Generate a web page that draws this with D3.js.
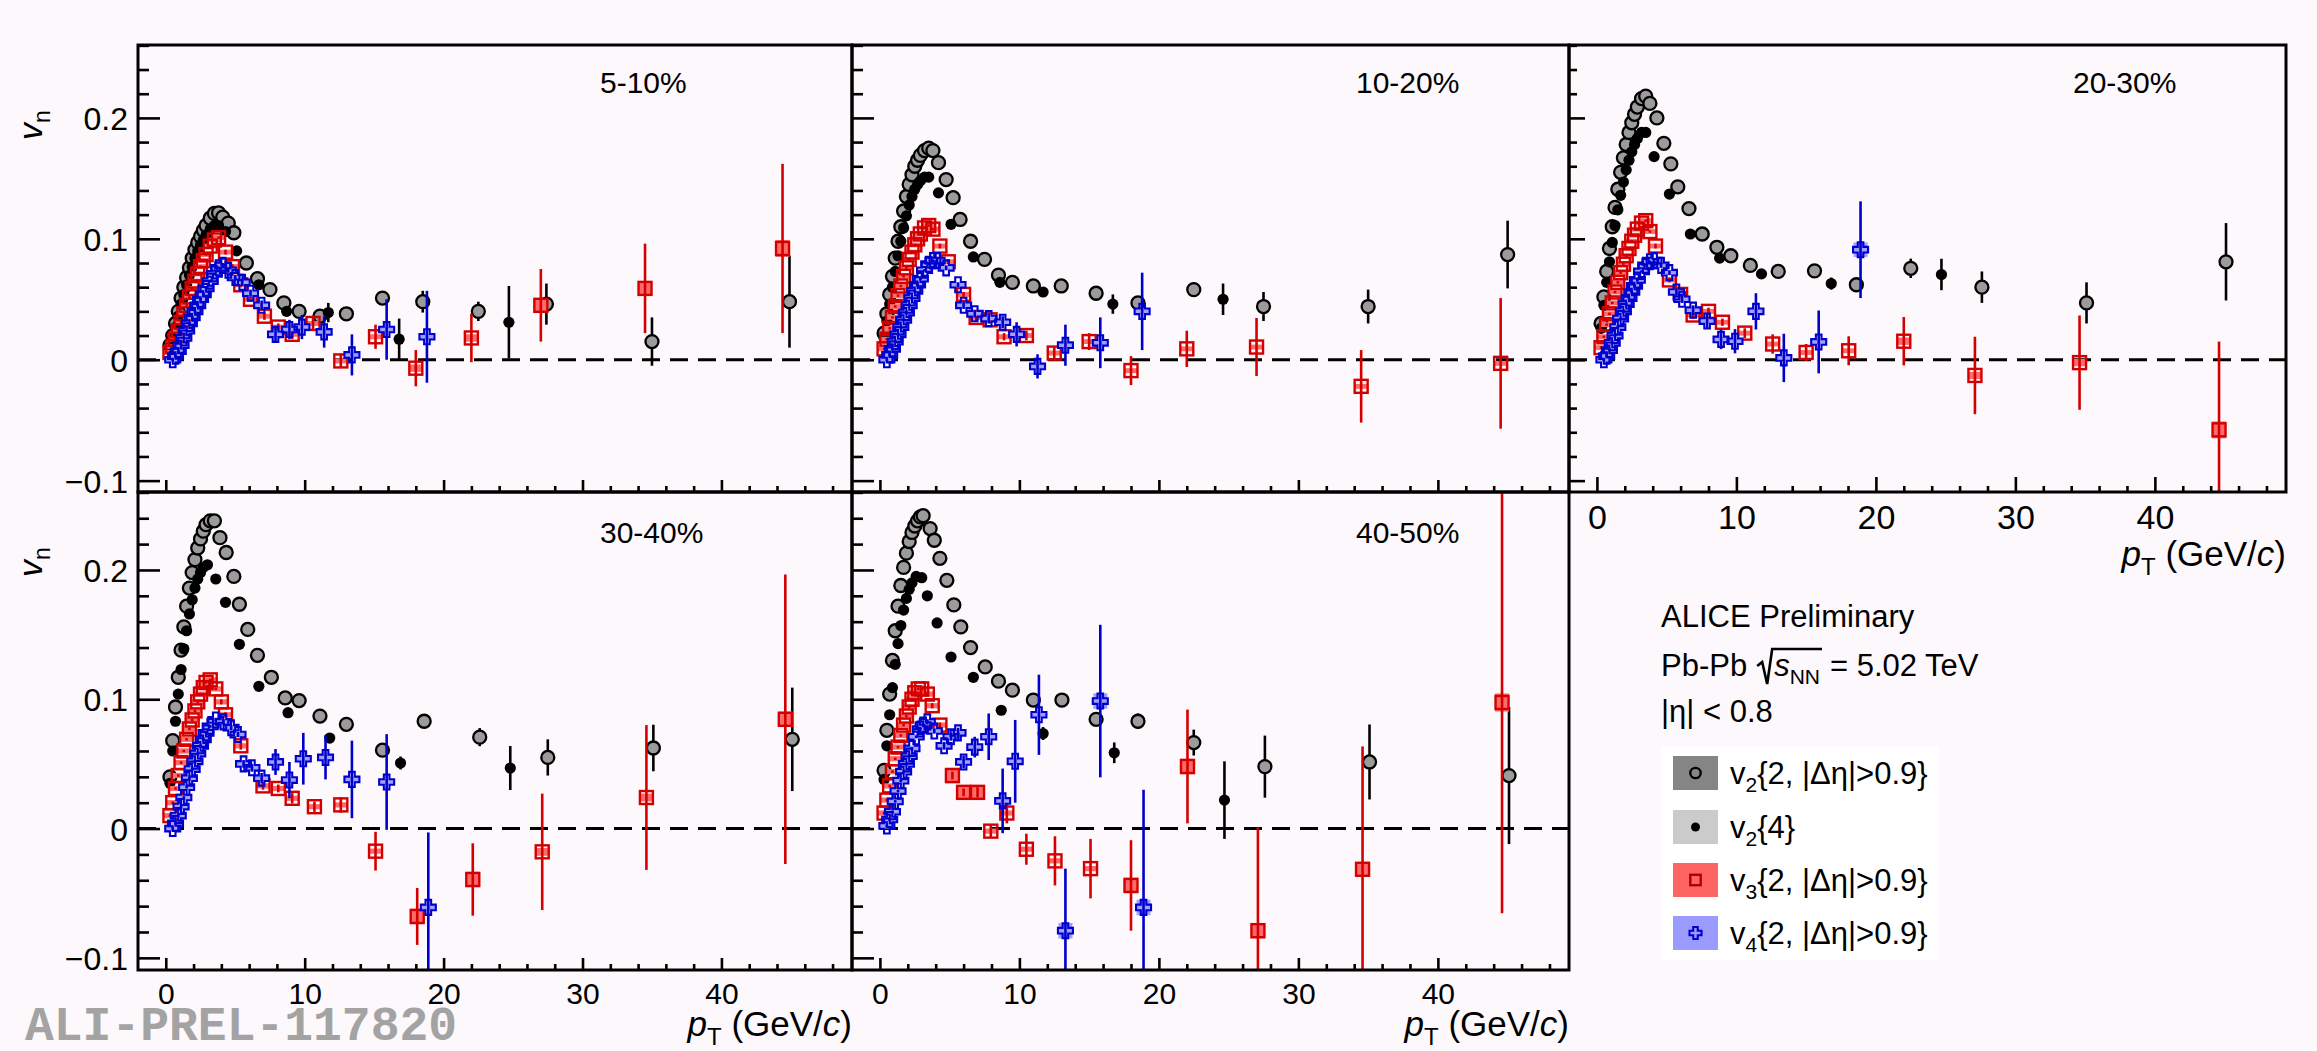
<!DOCTYPE html>
<html>
<head>
<meta charset="utf-8">
<script src="https://cdnjs.cloudflare.com/ajax/libs/d3/7.8.5/d3.min.js"></script>
<style>
body { margin: 0; background: #fdf8fc; }
svg { display: block; }
text { font-family: "Liberation Sans", Arial, Helvetica, sans-serif; fill: #000; }
</style>
</head>
<body>
<script>
// values: [pT, vn, stat, syst]
var centralities = ["5-10%", "10-20%", "20-30%", "30-40%", "40-50%"];

var v22_c1 = [[0.3,.012,.001],[0.5,.020,.001],[0.7,.030,.001],[0.9,.040,.001],[1.1,.051,.001],[1.3,.060,.001],[1.5,.068,.001],[1.7,.076,.001],[1.9,.084,.001],[2.1,.091,.001],[2.3,.097,.001],[2.5,.102,.001],[2.7,.107,.001],[2.9,.111,.001],[3.2,.117,.001],[3.5,.121,.001],[3.8,.1215,.001],[4.1,.118,.001],[4.5,.113,.001],[4.9,.105,.001],[5.8,.080,.001],[6.6,.067,.001],[7.5,.058,.002],[8.5,.047,.002],[9.6,.040,.002],[11.1,.036,.003],[13.0,.038,.003],[15.6,.051,.004],[18.5,.048,.009],[22.5,.040,.008],[27.4,.046,.017],[35.0,.015,.020],[44.9,.048,.038]];
var v24_c1 = [[0.3,.010,.001],[0.5,.018,.001],[0.7,.027,.001],[0.9,.036,.001],[1.1,.046,.001],[1.3,.054,.001],[1.5,.062,.001],[1.7,.070,.001],[1.9,.077,.001],[2.1,.084,.001],[2.3,.090,.001],[2.5,.095,.001],[2.7,.099,.001],[2.9,.103,.001],[3.2,.108,.001],[3.5,.111,.001],[3.8,.111,.001],[4.3,.106,.001],[5.1,.090,.002],[6.7,.062,.002],[8.7,.040,.003],[11.7,.039,.008],[16.8,.017,.017],[24.7,.031,.030]];
var v3_c1 = [[0.3,.006,.001],[0.5,.011,.001],[0.7,.017,.001],[0.9,.024,.001],[1.1,.031,.001],[1.3,.038,.001],[1.5,.045,.001],[1.7,.052,.001],[1.9,.059,.001],[2.1,.065,.001],[2.3,.071,.001],[2.5,.077,.001],[2.7,.082,.001],[2.9,.087,.001],[3.2,.094,.001],[3.5,.099,.001],[3.8,.101,.001],[4.3,.089,.002],[4.8,.077,.002],[5.4,.062,.002],[6.1,.050,.002],[7.1,.036,.003],[8.1,.027,.003],[9.1,.021,.004],[10.6,.030,.005],[12.6,-.001,.006],[15.1,.019,.010],[18.0,-.007,.015,.003],[22.0,.018,.020,.003],[27.0,.045,.030,.006],[34.5,.059,.037,.006],[44.4,.092,.070,.007]];
var v4_c1 = [[0.5,.000,.001],[0.7,.003,.001],[0.9,.007,.001],[1.1,.012,.001],[1.3,.018,.001],[1.5,.024,.001],[1.7,.030,.001],[1.9,.035,.001],[2.1,.040,.001],[2.3,.045,.001],[2.5,.050,.001],[2.7,.054,.001],[2.9,.059,.001],[3.2,.065,.001],[3.5,.071,.001],[3.8,.076,.001],[4.1,.078,.002],[4.5,.074,.002],[5.0,.068,.002],[5.5,.064,.003],[6.1,.055,.003],[6.9,.045,.004],[7.9,.021,.006],[8.9,.025,.008],[9.8,.027,.010],[11.4,.023,.013],[13.4,.004,.017],[15.9,.025,.025],[18.8,.019,.038]];

var v22_c2 = [[0.3,.022,.001],[0.5,.038,.001],[0.7,.054,.001],[0.9,.069,.001],[1.1,.084,.001],[1.3,.098,.001],[1.5,.110,.001],[1.7,.123,.001],[1.9,.135,.001],[2.1,.145,.001],[2.3,.153,.001],[2.5,.160,.001],[2.7,.165,.001],[2.9,.169,.001],[3.2,.173,.001],[3.5,.175,.001],[3.8,.173,.001],[4.2,.163,.001],[4.75,.149,.001],[5.25,.134,.001],[5.75,.116,.001],[6.5,.098,.001],[7.5,.083,.002],[8.5,.070,.002],[9.5,.064,.002],[11.0,.061,.002],[13.0,.061,.003],[15.5,.055,.003],[18.5,.047,.004],[22.5,.058,.006],[27.5,.044,.012],[35.0,.044,.014],[45.0,.087,.028]];
var v24_c2 = [[0.3,.018,.001],[0.5,.032,.001],[0.7,.046,.001],[0.9,.060,.001],[1.1,.073,.001],[1.3,.086,.001],[1.5,.098,.001],[1.7,.109,.001],[1.9,.119,.001],[2.1,.128,.001],[2.3,.135,.001],[2.5,.141,.001],[2.7,.145,.001],[2.9,.148,.001],[3.2,.151,.001],[3.5,.151,.001],[4.2,.138,.001],[5.1,.112,.002],[6.7,.085,.002],[8.6,.064,.002],[11.7,.056,.003],[16.7,.046,.008],[24.6,.050,.013]];
var v3_c2 = [[0.3,.009,.001],[0.5,.017,.001],[0.7,.026,.001],[0.9,.035,.001],[1.1,.044,.001],[1.3,.053,.001],[1.5,.061,.001],[1.7,.069,.001],[1.9,.076,.001],[2.1,.083,.001],[2.3,.089,.001],[2.5,.095,.001],[2.7,.100,.001],[2.9,.104,.001],[3.2,.109,.001],[3.5,.111,.001],[3.8,.108,.001],[4.3,.094,.002],[4.9,.081,.002],[6.0,.054,.002],[6.9,.035,.003],[7.9,.033,.003],[8.9,.019,.003],[10.5,.020,.004],[12.5,.0055,.005],[15.0,.015,.007],[18.0,-.009,.012],[22.0,.009,.015],[27.0,.0105,.024],[34.5,-.022,.030],[44.5,-.003,.054]];
var v4_c2 = [[0.5,.000,.001],[0.7,.004,.001],[0.9,.009,.001],[1.1,.015,.001],[1.3,.021,.001],[1.5,.027,.001],[1.7,.033,.001],[1.9,.039,.001],[2.1,.045,.001],[2.3,.051,.001],[2.5,.057,.001],[2.7,.062,.001],[2.9,.067,.001],[3.2,.074,.001],[3.5,.079,.001],[3.8,.082,.001],[4.1,.082,.002],[4.75,.076,.002],[5.6,.062,.002],[6.0,.045,.003],[6.8,.038,.003],[7.8,.034,.004],[8.8,.031,.005],[9.8,.021,.010],[11.3,-.0055,.010],[13.3,.012,.017],[15.8,.014,.021],[18.8,.040,.032]];

var v22_c3 = [[0.3,.030,.001],[0.5,.052,.001],[0.7,.073,.001],[0.9,.092,.001],[1.1,.110,.001],[1.3,.126,.001],[1.5,.141,.001],[1.7,.155,.001],[1.9,.167,.001],[2.1,.178,.001],[2.3,.188,.001],[2.5,.196,.001],[2.7,.203,.001],[2.9,.209,.001],[3.2,.216,.001],[3.5,.218,.001],[3.8,.212,.001],[4.3,.200,.001],[4.8,.179,.001],[5.3,.162,.001],[5.8,.143,.001],[6.6,.125,.001],[7.55,.104,.002],[8.6,.093,.002],[9.6,.086,.002],[11.0,.078,.002],[13.0,.073,.003],[15.6,.0735,.003],[18.6,.062,.004],[22.5,.0756,.008],[27.6,.060,.013],[35.1,.047,.017],[45.1,.081,.032]];
var v24_c3 = [[0.3,.026,.001],[0.5,.045,.001],[0.7,.064,.001],[0.9,.081,.001],[1.1,.097,.001],[1.3,.111,.001],[1.5,.124,.001],[1.7,.136,.001],[1.9,.147,.001],[2.1,.157,.001],[2.3,.165,.001],[2.5,.172,.001],[2.7,.178,.001],[2.9,.183,.001],[3.2,.188,.001],[3.5,.188,.001],[4.1,.168,.001],[5.2,.137,.002],[6.7,.104,.002],[8.8,.084,.002],[11.8,.071,.003],[16.8,.063,.005],[24.7,.0705,.013]];
var v3_c3 = [[0.3,.010,.001],[0.5,.019,.001],[0.7,.029,.001],[0.9,.038,.001],[1.1,.047,.001],[1.3,.056,.001],[1.5,.064,.001],[1.7,.072,.001],[1.9,.079,.001],[2.1,.086,.001],[2.3,.092,.001],[2.5,.098,.001],[2.7,.103,.001],[2.9,.108,.001],[3.2,.113,.001],[3.5,.115,.001],[3.8,.106,.001],[4.2,.094,.002],[5.2,.066,.002],[6.0,.054,.002],[6.9,.037,.003],[8.0,.040,.003],[9.0,.031,.003],[10.6,.022,.004],[12.6,.013,.008],[15.0,.006,.007],[18.05,.0074,.012],[22.0,.0153,.020,.003],[27.1,-.013,.032,.003],[34.6,-.0024,.039,.003],[44.6,-.058,.073,.007]];
var v4_c3 = [[0.5,.000,.001],[0.7,.003,.001],[0.9,.008,.001],[1.1,.014,.001],[1.3,.020,.001],[1.5,.027,.001],[1.7,.034,.001],[1.9,.040,.001],[2.1,.046,.001],[2.3,.051,.001],[2.5,.056,.001],[2.7,.061,.001],[2.9,.066,.001],[3.2,.073,.001],[3.5,.078,.001],[3.8,.081,.001],[4.1,.082,.002],[4.6,.078,.002],[5.2,.072,.002],[5.7,.056,.003],[6.1,.050,.003],[6.9,.041,.004],[7.9,.032,.006],[8.9,.0168,.008],[9.9,.0153,.010],[11.4,.040,.015],[13.4,.0015,.020],[15.9,.0147,.026],[18.9,.091,.040,.006]];

var v22_c4 = [[0.3,.040,.001],[0.5,.068,.001],[0.7,.094,.001],[0.9,.117,.001],[1.1,.138,.001],[1.3,.156,.001],[1.5,.172,.001],[1.7,.186,.001],[1.9,.198,.001],[2.1,.208,.001],[2.3,.217,.001],[2.5,.224,.001],[2.7,.230,.001],[2.9,.235,.001],[3.2,.238,.001],[3.5,.238,.001],[3.9,.225,.001],[4.35,.2135,.001],[4.9,.195,.001],[5.3,.1735,.001],[5.9,.154,.001],[6.6,.134,.002],[7.6,.117,.002],[8.6,.101,.002],[9.6,.099,.002],[11.1,.087,.003],[13.0,.0806,.003],[15.6,.0606,.003],[18.6,.083,.005],[22.6,.0707,.007],[27.5,.055,.014],[35.1,.0623,.018],[45.1,.069,.040]];
var v24_c4 = [[0.3,.035,.001],[0.5,.060,.001],[0.7,.083,.001],[0.9,.104,.001],[1.1,.123,.001],[1.3,.139,.001],[1.5,.153,.001],[1.7,.166,.001],[1.9,.177,.001],[2.1,.186,.001],[2.3,.193,.001],[2.5,.198,.001],[2.7,.202,.001],[3.0,.204,.001],[3.6,.193,.001],[4.3,.175,.001],[5.3,.1425,.002],[6.7,.110,.002],[8.8,.0896,.003],[11.8,.070,.003],[16.9,.0507,.005],[24.8,.0468,.017]];
var v3_c4 = [[0.3,.010,.001],[0.5,.020,.001],[0.7,.031,.001],[0.9,.041,.001],[1.1,.051,.001],[1.3,.060,.001],[1.5,.069,.001],[1.7,.077,.001],[1.9,.084,.001],[2.1,.091,.001],[2.3,.098,.001],[2.5,.104,.001],[2.7,.109,.001],[2.9,.113,.001],[3.2,.115,.001],[3.6,.108,.001],[4.0,.098,.002],[4.3,.088,.002],[5.4,.064,.003],[7.0,.033,.003],[8.1,.031,.003],[9.1,.0234,.004],[10.7,.0169,.004],[12.6,.0183,.006],[15.1,-.0175,.015],[18.1,-.068,.022,.006],[22.1,-.0394,.028,.006],[27.1,-.018,.045,.003],[34.6,.024,.056,.003],[44.6,.0845,.112,.006]];
var v4_c4 = [[0.5,.000,.001],[0.7,.004,.001],[0.9,.010,.001],[1.1,.017,.001],[1.3,.024,.001],[1.5,.032,.001],[1.7,.039,.001],[1.9,.046,.001],[2.1,.052,.001],[2.3,.058,.001],[2.5,.064,.001],[2.7,.069,.001],[2.9,.074,.001],[3.2,.079,.001],[3.6,.084,.001],[4.15,.0825,.002],[4.7,.078,.002],[5.2,.0727,.002],[5.6,.050,.003],[6.2,.047,.003],[6.9,.039,.004],[7.9,.0515,.010],[8.9,.0375,.014],[9.9,.054,.020],[11.5,.055,.017],[13.4,.038,.030],[15.9,.036,.037],[18.9,-.061,.058]];

var v22_c5 = [[0.3,.045,.001],[0.5,.076,.001],[0.7,.104,.001],[0.9,.130,.001],[1.1,.153,.001],[1.3,.172,.001],[1.5,.188,.001],[1.7,.202,.001],[1.9,.213,.001],[2.1,.222,.001],[2.3,.229,.001],[2.5,.234,.001],[2.7,.238,.001],[2.9,.241,.001],[3.1,.242,.001],[3.6,.232,.001],[3.9,.223,.001],[4.3,.209,.001],[4.8,.192,.001],[5.3,.173,.001],[5.8,.156,.002],[6.5,.140,.002],[7.55,.125,.002],[8.5,.114,.002],[9.5,.107,.003],[11.0,.0994,.003],[13.05,.0994,.003],[15.5,.0845,.004],[18.5,.083,.006],[22.5,.0665,.010],[27.6,.0479,.024],[35.1,.0515,.029],[45.1,.041,.053]];
var v24_c5 = [[0.3,.038,.001],[0.5,.064,.001],[0.7,.088,.001],[0.9,.109,.001],[1.1,.127,.001],[1.3,.143,.001],[1.5,.157,.001],[1.7,.169,.001],[1.9,.178,.001],[2.1,.185,.001],[2.3,.190,.001],[2.6,.195,.001],[3.0,.194,.001],[3.4,.180,.001],[4.1,.159,.002],[5.1,.1327,.002],[6.7,.117,.002],[8.7,.0915,.003],[11.7,.0735,.005],[16.8,.0586,.008],[24.7,.022,.030]];
var v3_c5 = [[0.3,.012,.001],[0.5,.022,.001],[0.7,.033,.001],[0.9,.044,.001],[1.1,.054,.001],[1.3,.063,.001],[1.5,.072,.001],[1.7,.080,.001],[1.9,.087,.001],[2.1,.094,.001],[2.3,.100,.001],[2.5,.105,.001],[2.75,.108,.001],[3.0,.108,.001],[3.4,.104,.002],[3.75,.095,.002],[4.3,.080,.002],[5.2,.041,.003,.006],[6.0,.028,.003,.005],[7.0,.028,.004,.005],[7.95,-.002,.005],[9.1,.012,.008],[10.5,-.016,.012],[12.55,-.025,.019],[15.1,-.031,.023],[18.0,-.044,.035,.006],[22.05,.048,.044,.006],[27.1,-.079,.080,.006],[34.6,-.0315,.095,.005],[44.6,.0975,.163,.007]];
var v4_c5 = [[0.5,.002,.001],[0.7,.007,.001],[0.9,.013,.001],[1.1,.021,.001],[1.3,.029,.001],[1.5,.037,.001],[1.7,.044,.001],[1.9,.050,.001],[2.1,.056,.001],[2.3,.062,.001],[2.6,.071,.001],[2.9,.077,.001],[3.1,.080,.001],[3.4,.0825,.002],[3.9,.0755,.002],[4.6,.064,.003],[5.1,.071,.003],[5.6,.074,.004],[6.0,.0515,.005],[6.8,.063,.008],[7.8,.071,.018],[8.8,.0214,.025],[9.7,.052,.032],[11.4,.088,.031],[13.3,-.079,.048,.006],[15.8,.0986,.059,.006],[18.9,-.061,.091,.006]];

// tick values and labels
var xMajorTicks = [0, 10, 20, 30, 40];
var xMinorTicks = [2, 4, 6, 8, 12, 14, 16, 18, 22, 24, 26, 28, 32, 34, 36, 38, 42, 44, 46, 48];
var yMajorTicks = [-0.1, 0, 0.1, 0.2];
var yTickLabels = ["\u22120.1", "0", "0.1", "0.2"];
var yMinorTicks = [-0.08, -0.06, -0.04, -0.02, 0.02, 0.04, 0.06, 0.08, 0.12, 0.14, 0.16, 0.18, 0.22, 0.24, 0.26];

var legendSub = ["2", "2", "3", "4"];
var legendRest = ["{2, |\u0394\u03b7|>0.9}", "{4}", "{2, |\u0394\u03b7|>0.9}", "{2, |\u0394\u03b7|>0.9}"];

var panelSeries = [
  [v22_c1, v24_c1, v3_c1, v4_c1],
  [v22_c2, v24_c2, v3_c2, v4_c2],
  [v22_c3, v24_c3, v3_c3, v4_c3],
  [v22_c4, v24_c4, v3_c4, v4_c4],
  [v22_c5, v24_c5, v3_c5, v4_c5]
];

// layout
var width = 2317, height = 1051;
var colLeft = [138, 852, 1569], colRight = [852, 1569, 2286];
var rowTop = [45, 492], rowBottom = [492, 970];
var xDomain = [-2, 49.4], yDomain = [-0.1094, 0.2603];

var lineColor = ["#000", "#000", "#d40000", "#0000cc"];
var boxColor = ["#858585", "#cbcbcb", "#ff6464", "#9b9bff"];

var svg = d3.select("body").append("svg")
    .attr("width", width)
    .attr("height", height);

svg.append("rect")
    .attr("width", width)
    .attr("height", height)
    .attr("fill", "#fdf8fc");

var crossPath = function (s, a) {
  var h = s / 2;
  return "M" + (-a) + "," + (-h) + "L" + a + "," + (-h) + "L" + a + "," + (-a) + "L" + h + "," + (-a) +
    "L" + h + "," + a + "L" + a + "," + a + "L" + a + "," + h + "L" + (-a) + "," + h +
    "L" + (-a) + "," + a + "L" + (-h) + "," + a + "L" + (-h) + "," + (-a) + "L" + (-a) + "," + (-a) + "Z";
};

function drawMarker(g, kind, cx, cy, small) {
  var k = small ? 0.8 : 1;
  if (kind === 0) {
    g.append("circle").attr("cx", cx).attr("cy", cy).attr("r", 6.5 * k)
      .attr("fill", small ? "none" : "#9b9b9b").attr("stroke", "#000").attr("stroke-width", 2.3);
  } else if (kind === 1) {
    g.append("circle").attr("cx", cx).attr("cy", cy).attr("r", 5.6 * k).attr("fill", "#000");
  } else if (kind === 2) {
    var s = 13 * k;
    g.append("rect").attr("x", cx - s / 2).attr("y", cy - s / 2).attr("width", s).attr("height", s)
      .attr("fill", "none").attr("stroke", small ? "#b00000" : "#d40000").attr("stroke-width", 2.4);
  } else {
    g.append("path").attr("d", crossPath(15 * k, 2.8 * k)).attr("transform", "translate(" + cx + "," + cy + ")")
      .attr("fill", "none").attr("stroke", "#0000cc").attr("stroke-width", 2.1);
  }
}

centralities.forEach(function (label, i) {
  var row = i < 3 ? 0 : 1, col = i % 3;
  var x = d3.scaleLinear().domain(xDomain).range([colLeft[col], colRight[col]]);
  var y = d3.scaleLinear().domain(yDomain).range([rowBottom[row], rowTop[row]]);
  var g = svg.append("g");

  var clipId = "clip" + i;
  svg.append("clipPath").attr("id", clipId).append("rect")
    .attr("x", colLeft[col]).attr("y", rowTop[row])
    .attr("width", colRight[col] - colLeft[col]).attr("height", rowBottom[row] - rowTop[row]);

  // zero line
  g.append("line")
    .attr("x1", colLeft[col]).attr("x2", colRight[col])
    .attr("y1", y(0)).attr("y2", y(0))
    .attr("stroke", "#000").attr("stroke-width", 3).attr("stroke-dasharray", "18,10");

  var plot = g.append("g").attr("clip-path", "url(#" + clipId + ")");

  panelSeries[i].forEach(function (data, s) {
    var sg = plot.append("g");
    if (s >= 2) {
      sg.selectAll("rect.sys").data(data).join("rect")
        .attr("x", function (d) { return x(d[0]) - 7; })
        .attr("width", 14)
        .attr("y", function (d) { return y(d[1] + (d[3] || 0.002)); })
        .attr("height", function (d) { return y(d[1] - (d[3] || 0.002)) - y(d[1] + (d[3] || 0.002)); })
        .attr("fill", s === 2 ? "#ff6a6a" : "#a0a0ff");
    }
    sg.selectAll("line.err").data(data).join("line")
      .attr("x1", function (d) { return x(d[0]); })
      .attr("x2", function (d) { return x(d[0]); })
      .attr("y1", function (d) { return y(d[1] - d[2]); })
      .attr("y2", function (d) { return y(d[1] + d[2]); })
      .attr("stroke", lineColor[s]).attr("stroke-width", 2.6);
    data.forEach(function (d) { drawMarker(sg, s, x(d[0]), y(d[1]), false); });
  });

  // axes: ticks inward on left and bottom
  var yMajLen = col === 2 ? 16 : 22, yMinLen = col === 2 ? 8 : 11;
  var xMajLen = (row === 0 && col === 2) ? 15 : 12, xMinLen = 6;

  var yAx = g.append("g").attr("transform", "translate(" + colLeft[col] + ",0)")
    .call(d3.axisLeft(y).tickValues(yMajorTicks).tickSize(-yMajLen).tickPadding(10)
      .tickFormat(function (d, k) { return col === 0 ? yTickLabels[k] : ""; }));
  var yAxMin = g.append("g").attr("transform", "translate(" + colLeft[col] + ",0)")
    .call(d3.axisLeft(y).tickValues(yMinorTicks).tickSize(-yMinLen).tickFormat(""));

  var showX = (row === 1) || (col === 2);
  var xAx = g.append("g").attr("transform", "translate(0," + rowBottom[row] + ")")
    .call(d3.axisBottom(x).tickValues(xMajorTicks).tickSize(-xMajLen).tickPadding(row === 0 ? 13 : 13)
      .tickFormat(function (d) { return showX ? d : ""; }));
  var xAxMin = g.append("g").attr("transform", "translate(0," + rowBottom[row] + ")")
    .call(d3.axisBottom(x).tickValues(xMinorTicks).tickSize(-xMinLen).tickFormat(""));

  [yAx, yAxMin, xAx, xAxMin].forEach(function (a) {
    a.select(".domain").remove();
    a.selectAll("line").attr("stroke", "#000").attr("stroke-width", 2.6);
    a.selectAll("text").attr("fill", "#000")
      .style("font-family", "'Liberation Sans', Arial, sans-serif");
  });
  yAx.selectAll("text").style("font-size", "32px").attr("dy", "0.36em");
  xAx.selectAll("text").style("font-size", row === 0 ? "34px" : "30px");

  // frame
  g.append("rect")
    .attr("x", colLeft[col]).attr("y", rowTop[row])
    .attr("width", colRight[col] - colLeft[col]).attr("height", rowBottom[row] - rowTop[row])
    .attr("fill", "none").attr("stroke", "#000").attr("stroke-width", 3);

  // centrality
  g.append("text")
    .attr("x", colLeft[col] + (col === 0 ? 462 : 504))
    .attr("y", rowTop[row] + 48 + (row === 1 ? 3 : 0))
    .style("font-size", "30px")
    .text(label);

  // y title
  if (col === 0) {
    var yt = g.append("text")
      .attr("transform", "translate(42," + (row === 0 ? 125 : 562) + ") rotate(-90)")
      .attr("text-anchor", "middle")
      .style("font-size", "34px");
    yt.append("tspan").style("font-style", "italic").text("v");
    yt.append("tspan").attr("dy", 8).style("font-size", "23px").text("n");
  }

  // x title
  if (showX) {
    var xt = g.append("text")
      .attr("x", colRight[col])
      .attr("y", row === 0 ? 566 : 1036)
      .attr("text-anchor", "end")
      .style("font-size", "35px");
    xt.append("tspan").style("font-style", "italic").text("p");
    xt.append("tspan").attr("dy", 9).style("font-size", "24px").text("T");
    xt.append("tspan").attr("dy", -9).text("\u00a0(GeV/");
    xt.append("tspan").style("font-style", "italic").text("c");
    xt.append("tspan").text(")");
  }
});

// header text
svg.append("text").attr("x", 1661).attr("y", 627).style("font-size", "31px").text("ALICE Preliminary");

var pb = svg.append("text").attr("x", 1661).attr("y", 676).style("font-size", "31px").text("Pb-Pb");
var pbW = pb.node().getComputedTextLength();
var rx = 1661 + pbW + 10;
var sText = svg.append("text").attr("x", rx + 17).attr("y", 676).style("font-size", "31px");
sText.append("tspan").style("font-style", "italic").text("s");
sText.append("tspan").attr("dy", 8).style("font-size", "21px").text("NN");
var sW = sText.node().getComputedTextLength();
svg.append("path")
  .attr("d", "M" + rx + "," + 666 + "L" + (rx + 5) + "," + 662 + "L" + (rx + 10) + "," + 684 +
    "L" + (rx + 15) + "," + 649 + "L" + (rx + 17 + sW + 2) + "," + 649)
  .attr("fill", "none").attr("stroke", "#000").attr("stroke-width", 2.6);
svg.append("text").attr("x", rx + 17 + sW + 10).attr("y", 676).style("font-size", "31px").text("= 5.02 TeV");

svg.append("text").attr("x", 1661).attr("y", 722).style("font-size", "31px").text("|\u03b7| < 0.8");

// legend
svg.append("rect").attr("x", 1661).attr("y", 747).attr("width", 278).attr("height", 213).attr("fill", "#ffffff");
var legendY = [773, 827, 880, 933];
legendSub.forEach(function (sub, k) {
  svg.append("rect").attr("x", 1673).attr("y", legendY[k] - 17).attr("width", 45).attr("height", 34)
    .attr("fill", boxColor[k]);
  drawMarker(svg, k, 1695.5, legendY[k], true);
  var t = svg.append("text").attr("x", 1730).attr("y", legendY[k] + 11).style("font-size", "31px");
  t.append("tspan").text("v");
  t.append("tspan").attr("dy", 8).style("font-size", "21px").text(sub);
  t.append("tspan").attr("dy", -8).text(legendRest[k]);
});

// preliminary id
svg.append("text")
  .attr("x", 25).attr("y", 1040)
  .style("font-family", "'Liberation Mono', 'DejaVu Sans Mono', monospace")
  .style("font-weight", "bold")
  .style("font-size", "48px")
  .style("fill", "#a3a3a3")
  .text("ALI-PREL-117820");
</script>
</body>
</html>
